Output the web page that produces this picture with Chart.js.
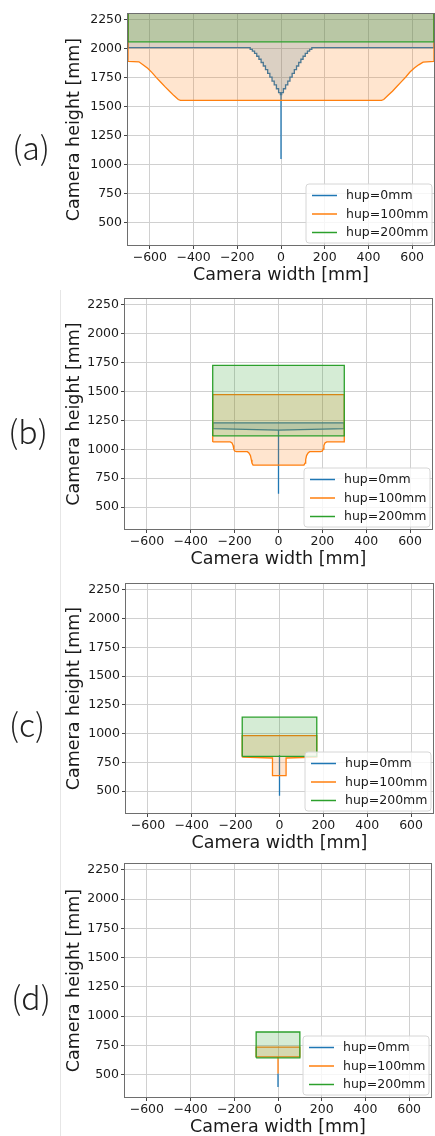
<!DOCTYPE html>
<html lang="en">
<head>
<meta charset="UTF-8">
<title>Camera height vs camera width</title>
<script src="https://cdn.jsdelivr.net/npm/chart.js"></script>
<style>
  body { margin: 0; width: 435px; height: 1136px; overflow: hidden; background: #fff; position: relative; }
  canvas { position: absolute; left: 0; }
  .tag { position: absolute; font-family: 'Noto Sans CJK JP', 'Noto Sans', sans-serif; font-size: 32px; font-weight: 300;
         color: #222; transform: translate(-50%, -50%); line-height: 1; }
  .edge { position: absolute; left: 60px; top: 290px; width: 1px; height: 846px; background: #e6e6e6; }
</style>
</head>
<body>
<div class="edge"></div>
<script>
// axis ticks and labels
const xTicks = [-600, -400, -200, 0, 200, 400, 600];
const yTicks = [500, 750, 1000, 1250, 1500, 1750, 2000, 2250];
const hupLabels = ['hup=0mm', 'hup=100mm', 'hup=200mm'];
const panelTags = ['(a)', '(b)', '(c)', '(d)'];

// each band = lower edge then upper edge, points are [width mm, height mm]
// (a)
const aBlueLow = [[-700, 2010], [-146, 2010], [-136, 1996], [-126, 1980], [-116, 1960], [-106, 1936], [-96, 1910],
  [-86, 1882], [-76, 1852], [-66, 1820], [-56, 1788], [-46, 1756], [-36, 1722], [-26, 1690], [-16, 1656], [-6, 1622],
  [0, 1605], [0, 1050], [0, 1605], [6, 1622], [16, 1656], [26, 1690], [36, 1722], [46, 1756], [56, 1788], [66, 1820],
  [76, 1852], [86, 1882], [96, 1910], [106, 1936], [116, 1960], [126, 1980], [136, 1996], [146, 2010], [700, 2010]];
const aBlueHigh = [[700, 2400], [-700, 2400]];
const aOrangeLow = [[-700, 1892], [-650, 1888], [-630, 1860], [-610, 1832], [-590, 1795], [-570, 1752], [-550, 1712],
  [-530, 1672], [-510, 1635], [-490, 1597], [-470, 1563], [-460, 1556], [460, 1556], [470, 1563], [490, 1600],
  [510, 1635], [530, 1675], [550, 1715], [570, 1755], [590, 1800], [610, 1835], [630, 1862], [650, 1885], [700, 1892]];
const aOrangeHigh = [[700, 2400], [-700, 2400]];
const aGreenLow = [[-700, 2060], [700, 2060]];
const aGreenHigh = [[700, 2400], [-700, 2400]];

// (b)
const bBlueLow = [[-300, 1178], [-150, 1172], [0, 1165], [0, 615], [0, 1165], [150, 1172], [300, 1178]];
const bBlueHigh = [[300, 1228], [-300, 1228]];
const bOrangeLow = [[-300, 1063], [-220, 1063], [-212, 1055], [-207, 1032], [-204, 1002], [-200, 985], [-192, 979],
  [-142, 979], [-135, 968], [-128, 945], [-124, 910], [-121, 880], [-116, 863], [116, 863], [121, 880], [124, 910],
  [128, 945], [135, 968], [142, 979], [192, 979], [200, 985], [204, 1002], [207, 1032], [212, 1055], [220, 1063], [300, 1063]];
const bOrangeHigh = [[300, 1473], [-300, 1473]];
const bGreenLow = [[-300, 1115], [300, 1115]];
const bGreenHigh = [[300, 1725], [-300, 1725]];

// (c)
const cBlueLow = [[0, 460], [0, 815]];
const cBlueHigh = [];
const cOrangeLow = [[-170, 795], [-32, 788], [-32, 635], [30, 635], [30, 788], [170, 795]];
const cOrangeHigh = [[170, 982], [-170, 982]];
const cGreenLow = [[-170, 802], [170, 802]];
const cGreenHigh = [[170, 1143], [-170, 1143]];

// (d)
const dBlueLow = [[0, 395], [0, 510]];
const dBlueHigh = [];
const dOrangeLow = [[-100, 652], [0, 652], [0, 510], [0, 652], [100, 652]];
const dOrangeHigh = [[100, 736], [-100, 736]];
const dGreenLow = [[-100, 645], [100, 645]];
const dGreenHigh = [[100, 865], [-100, 865]];

const panels = [
  [[aBlueLow, aBlueHigh], [aOrangeLow, aOrangeHigh], [aGreenLow, aGreenHigh]],
  [[bBlueLow, bBlueHigh], [bOrangeLow, bOrangeHigh], [bGreenLow, bGreenHigh]],
  [[cBlueLow, cBlueHigh], [cOrangeLow, cOrangeHigh], [cGreenLow, cGreenHigh]],
  [[dBlueLow, dBlueHigh], [dOrangeLow, dOrangeHigh], [dGreenLow, dGreenHigh]]
];

const lineColors = ['#1f77b4', '#ff7f0e', '#2ca02c'];
const fillColors = ['rgba(31,119,180,0.2)', 'rgba(255,127,14,0.2)', 'rgba(44,160,44,0.2)'];

// where each panel sits on the page (px)
const boxes = [
  {left: 128, right: 434, top: 14, bottom: 245, tagX: 31, tagY: 146},
  {left: 125, right: 432, top: 299, bottom: 529, tagX: 28, tagY: 430},
  {left: 126, right: 433, top: 584, bottom: 813, tagX: 27, tagY: 723},
  {left: 125, right: 431, top: 864, bottom: 1097, tagX: 31, tagY: 996}
];

const FONT = 'DejaVu Sans';

// spines on all four sides + matplotlib-like legend in the lower right
const frameAndLegend = {
  id: 'frameAndLegend',
  afterDraw(chart) {
    const {ctx, chartArea: a} = chart;
    ctx.save();
    ctx.strokeStyle = '#6e6e6e';
    ctx.lineWidth = 1;
    ctx.strokeRect(a.left - 0.5, a.top - 0.5, a.right - a.left + 1, a.bottom - a.top + 1);

    const w = 126, h = 59, r = 3;
    const x0 = a.right - 2 - w, y0 = a.bottom - 2 - h;
    ctx.beginPath();
    ctx.moveTo(x0 + r, y0);
    ctx.arcTo(x0 + w, y0, x0 + w, y0 + h, r);
    ctx.arcTo(x0 + w, y0 + h, x0, y0 + h, r);
    ctx.arcTo(x0, y0 + h, x0, y0, r);
    ctx.arcTo(x0, y0, x0 + w, y0, r);
    ctx.closePath();
    ctx.fillStyle = 'rgba(255,255,255,0.8)';
    ctx.fill();
    ctx.strokeStyle = '#d6d6d6';
    ctx.stroke();

    ctx.font = '12.5px "' + FONT + '"';
    ctx.textBaseline = 'middle';
    hupLabels.forEach((lab, i) => {
      const y = y0 + 11.5 + i * 18.5;
      ctx.beginPath();
      ctx.moveTo(x0 + 6, y);
      ctx.lineTo(x0 + 31, y);
      ctx.strokeStyle = lineColors[i];
      ctx.lineWidth = 1.5;
      ctx.stroke();
      ctx.fillStyle = '#1a1a1a';
      ctx.fillText(lab, x0 + 40, y + 0.5);
    });
    ctx.restore();
  }
};

panels.forEach((bands, p) => {
  const b = boxes[p];
  const canvas = document.createElement('canvas');
  const top = b.top - 14;
  canvas.width = 435;
  canvas.height = b.bottom + 45 - top;
  canvas.style.top = top + 'px';
  document.body.appendChild(canvas);

  const tag = document.createElement('div');
  tag.className = 'tag';
  tag.textContent = panelTags[p];
  tag.style.left = b.tagX + 'px';
  tag.style.top = b.tagY + 'px';
  document.body.appendChild(tag);

  const datasets = bands.map((band, i) => {
    const [low, high] = band;
    const outline = low.concat(high, [low[0]]);
    return {
      label: hupLabels[i],
      data: outline.map(pt => ({x: pt[0], y: pt[1]})),
      borderColor: lineColors[i],
      backgroundColor: fillColors[i],
      borderWidth: 1.3,
      fill: 'shape',
      stepped: p === 0 && i === 0 ? 'middle' : false,
      order: 3 - i
    };
  });

  new Chart(canvas, {
    type: 'line',
    data: {datasets},
    options: {
      responsive: false,
      animation: false,
      layout: {padding: {top: 14, left: 60, right: 435 - b.right, bottom: 0}},
      elements: {point: {radius: 0}, line: {tension: 0}},
      plugins: {legend: {display: false}, tooltip: {enabled: false}},
      scales: {
        x: {
          type: 'linear', min: -700, max: 700,
          afterBuildTicks: s => { s.ticks = xTicks.map(v => ({value: v})); },
          afterFit: s => { s.height = 45; },
          ticks: {
            autoSkip: false, maxRotation: 0, padding: 1, color: '#1a1a1a',
            font: {family: FONT, size: 12.5},
            callback: v => v < 0 ? '\u2212' + (-v) : String(v)
          },
          grid: {color: '#d0d0d0', lineWidth: 1, tickLength: 4, tickColor: '#444'},
          border: {display: false},
          title: {display: true, text: 'Camera width [mm]', color: '#1a1a1a',
                  font: {family: FONT, size: 17.5}, padding: {top: 4, bottom: 4}}
        },
        y: {
          type: 'linear', min: 310, max: 2300,
          afterBuildTicks: s => { s.ticks = yTicks.map(v => ({value: v})); },
          afterFit: s => { s.width = b.left - 60; },
          ticks: {autoSkip: false, padding: 2, color: '#1a1a1a', font: {family: FONT, size: 12.5},
                  callback: v => String(v)},
          grid: {color: '#d0d0d0', lineWidth: 1, tickLength: 4, tickColor: '#444'},
          border: {display: false},
          title: {display: true, text: 'Camera height [mm]', color: '#1a1a1a',
                  font: {family: FONT, size: 17.5}, padding: {top: 4, bottom: 4}}
        }
      }
    },
    plugins: [frameAndLegend]
  });
});
</script>
</body>
</html>
